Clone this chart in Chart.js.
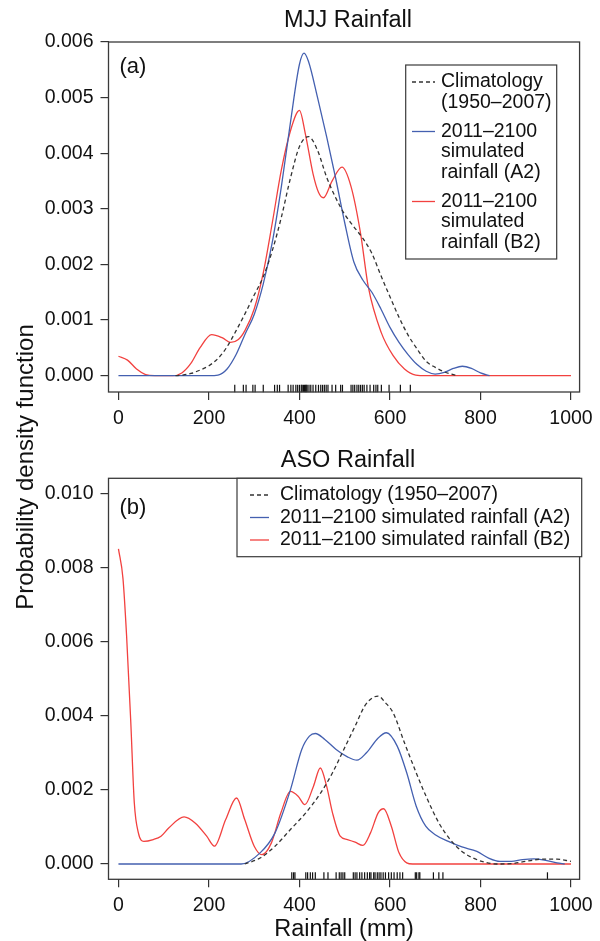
<!DOCTYPE html>
<html>
<head>
<meta charset="utf-8">
<script src="https://cdn.jsdelivr.net/npm/chart.js@4.4.0/dist/chart.umd.min.js"></script>
<style>
  body { margin: 0; background: #fff; width: 600px; height: 941px; position: relative; overflow: hidden; }
  canvas { position: absolute; left: 0; }
  #ylab {
    position: absolute; left: -175px; top: 455px; width: 400px; height: 24px;
    line-height: 24px; font-size: 24px; text-align: center; color: #111;
    font-family: "Liberation Sans", Arial, sans-serif;
    transform: rotate(-90deg);
  }
</style>
</head>
<body>
<canvas id="mjj" width="600" height="430" style="top:0"></canvas>
<canvas id="aso" width="600" height="511" style="top:430px"></canvas>
<div id="ylab">Probability density function</div>
<script>
const FONT = '"Liberation Sans", Arial, sans-serif';

// axis ticks
const xTicks = [0, 200, 400, 600, 800, 1000];
const mjjYTicks = [0, 0.001, 0.002, 0.003, 0.004, 0.005, 0.006];
const asoYTicks = [0, 0.002, 0.004, 0.006, 0.008, 0.010];

// legend labels
const mjjLabels = ["Climatology\n(1950–2007)", "2011–2100\nsimulated\nrainfall (A2)", "2011–2100\nsimulated\nrainfall (B2)"];
const asoLabels = ["Climatology (1950–2007)", "2011–2100 simulated rainfall (A2)", "2011–2100 simulated rainfall (B2)"];

// (a) MJJ densities, rainfall in mm, density in 1e-3
const mjjClimX = [126, 140, 160, 180, 200, 220, 240, 260, 280, 300, 320, 340, 360, 380, 400, 420, 440, 460, 480, 500, 520, 540, 560, 580, 600, 620, 640, 660, 680, 700, 720, 740, 750];
const mjjClimY = [0, 0.01, 0.04, 0.1, 0.18, 0.31, 0.52, 0.81, 1.12, 1.45, 1.78, 2.25, 2.85, 3.55, 4.12, 4.3, 4.05, 3.57, 3.2, 2.9, 2.68, 2.47, 2.2, 1.8, 1.42, 1.05, 0.73, 0.48, 0.26, 0.15, 0.07, 0.02, 0];
const mjjA2X = [0, 200, 220, 240, 260, 280, 300, 320, 340, 360, 380, 400, 410, 420, 440, 460, 480, 500, 520, 540, 560, 580, 600, 620, 640, 660, 680, 700, 720, 740, 760, 780, 800, 820];
const mjjA2Y = [0, 0, 0.01, 0.12, 0.38, 0.75, 1.1, 1.65, 2.4, 3.4, 4.55, 5.6, 5.8, 5.65, 5.0, 4.3, 3.55, 2.75, 2.05, 1.72, 1.5, 1.2, 0.87, 0.6, 0.38, 0.2, 0.08, 0.03, 0.06, 0.13, 0.17, 0.13, 0.05, 0];
const mjjB2X = [0, 20, 40, 60, 80, 120, 140, 160, 180, 206, 230, 248, 265, 280, 300, 320, 340, 360, 380, 400, 413, 430, 442, 453, 472, 494, 514, 535, 552, 581, 607, 632, 657, 680, 1000];
const mjjB2Y = [0.35, 0.28, 0.12, 0.02, 0, 0, 0.05, 0.22, 0.5, 0.74, 0.68, 0.6, 0.65, 0.82, 1.2, 1.85, 2.75, 3.7, 4.4, 4.77, 4.35, 3.63, 3.3, 3.2, 3.5, 3.75, 3.4, 2.56, 1.6, 0.77, 0.36, 0.12, 0.01, 0, 0];
const mjjRug = [257, 276, 282, 297, 302, 320, 345, 351, 356, 375, 381, 386, 392, 396, 400, 404, 406, 409, 411, 413, 415, 417, 421, 425, 430, 436, 442, 447, 451, 455, 459, 463, 472, 480, 491, 495, 514, 518, 522, 527, 531, 535, 539, 543, 549, 556, 564, 569, 573, 581, 598, 623, 645];

// (b) ASO densities
const asoClimX = [279, 313, 346, 380, 414, 447, 473, 498, 523, 544, 561, 574, 590, 607, 632, 658, 683, 708, 733, 759, 784, 809, 835, 868, 900, 935, 969, 1000];
const asoClimY = [0, 0.16, 0.48, 0.93, 1.38, 1.92, 2.46, 3.09, 3.72, 4.26, 4.48, 4.53, 4.35, 4.08, 3.27, 2.46, 1.74, 1.11, 0.66, 0.34, 0.16, 0.05, 0, 0.01, 0.07, 0.13, 0.13, 0.07];
const asoA2X = [0, 271, 313, 346, 380, 405, 422, 435, 456, 481, 506, 527, 548, 574, 592, 616, 637, 658, 679, 700, 729, 759, 792, 818, 843, 868, 893, 918, 944, 969, 986];
const asoA2Y = [0, 0, 0.3, 0.84, 2.0, 3.09, 3.45, 3.52, 3.36, 3.09, 2.89, 2.8, 3.0, 3.4, 3.54, 3.18, 2.46, 1.56, 1.02, 0.79, 0.61, 0.46, 0.34, 0.16, 0.07, 0.07, 0.12, 0.14, 0.1, 0.03, 0];
const asoB2X = [0, 10, 18, 27, 35, 44, 56, 77, 94, 111, 145, 170, 195, 212, 237, 261, 279, 300, 317, 338, 359, 380, 397, 412, 431, 446, 460, 473, 490, 506, 523, 540, 557, 574, 586, 603, 620, 637, 650, 1000];
const asoB2Y = [8.5, 7.7, 6.15, 3.9, 1.65, 0.84, 0.61, 0.66, 0.75, 0.97, 1.27, 1.1, 0.75, 0.48, 1.2, 1.78, 1.2, 0.48, 0.25, 0.57, 1.38, 1.96, 1.83, 1.6, 2.1, 2.59, 2.1, 1.38, 0.75, 0.66, 0.59, 0.5, 0.84, 1.38, 1.49, 1.02, 0.3, 0.03, 0, 0];
const asoRug = [383, 387, 390, 414, 418, 424, 429, 435, 454, 463, 481, 488, 492, 496, 500, 519, 523, 527, 533, 538, 544, 550, 555, 558, 564, 567, 572, 576, 580, 585, 590, 597, 603, 609, 616, 622, 628, 656, 659, 664, 666, 696, 708, 717, 948];

const BLUE = "#4460b0";
const RED = "#f2413f";
const DARK = "#333333";

function line(label, xs, ys, color, dash) {
  return {
    label: label,
    data: xs.map((x, i) => ({ x: x, y: ys[i] * 1e-3 })),
    borderColor: color,
    borderWidth: 1.3,
    borderDash: dash || [],
    pointRadius: 0,
    cubicInterpolationMode: "monotone",
    fill: false
  };
}

function rug(xs, y) {
  return {
    type: "scatter",
    label: "",
    data: xs.map(x => ({ x: x, y: y })),
    pointStyle: "line",
    rotation: 90,
    pointRadius: 3.7,
    borderColor: "#111",
    borderWidth: 1.2,
    showLine: false,
    clip: false
  };
}

const framePlugin = {
  id: "frame",
  afterDraw(chart, args, o) {
    const { ctx, chartArea: a } = chart;
    ctx.save();
    ctx.strokeStyle = "#3a3a3a";
    ctx.lineWidth = 1.3;
    ctx.strokeRect(a.left, a.top, a.right - a.left, a.bottom - a.top);
    ctx.fillStyle = "#111";
    ctx.textAlign = "center";
    ctx.textBaseline = "alphabetic";
    ctx.font = "23.5px " + FONT;
    ctx.fillText(o.title, (a.left + a.right) / 2 + 4, o.titleY);
    ctx.textAlign = "left";
    ctx.font = "22px " + FONT;
    ctx.fillText(o.tag, a.left + 11, o.tagY);

    // legend
    const L = o.legend;
    ctx.fillStyle = "#fff";
    ctx.fillRect(L.x, L.y, L.w, L.h);
    ctx.strokeStyle = "#3a3a3a";
    ctx.lineWidth = 1.2;
    ctx.strokeRect(L.x, L.y, L.w, L.h);
    ctx.font = "19.5px " + FONT;
    ctx.textBaseline = "middle";
    let y = L.row0;
    chart.data.datasets.forEach(ds => {
      if (!ds.label) return;
      ctx.strokeStyle = ds.borderColor;
      ctx.lineWidth = ds.borderWidth;
      ctx.setLineDash(ds.borderDash);
      ctx.beginPath();
      ctx.moveTo(L.lx0, y);
      ctx.lineTo(L.lx1, y);
      ctx.stroke();
      ctx.setLineDash([]);
      ctx.fillStyle = "#111";
      const rows = ds.label.split("\n");
      rows.forEach((t, i) => ctx.fillText(t, L.tx, y + i * L.lh));
      y += rows.length * L.lh + L.gap;
    });
    ctx.restore();
  }
};

function panel(id, datasets, yTicks, yMin, yMax, pad, xHeight, frame, xTitle) {
  return new Chart(document.getElementById(id), {
    type: "line",
    data: { datasets: datasets },
    plugins: [framePlugin],
    options: {
      responsive: false,
      animation: false,
      layout: { padding: pad },
      plugins: {
        legend: { display: false },
        tooltip: { enabled: false },
        frame: frame
      },
      scales: {
        x: {
          type: "linear",
          min: -22,
          max: 1019,
          afterBuildTicks: s => { s.ticks = xTicks.map(v => ({ value: v })); },
          afterFit: s => { s.height = xHeight; },
          grid: { drawOnChartArea: false, tickLength: 8, tickColor: DARK, lineWidth: 1.2 },
          border: { display: false },
          ticks: {
            color: "#111",
            padding: 7,
            maxRotation: 0,
            font: { family: FONT, size: 19.5 },
            callback: v => String(v)
          },
          title: {
            display: !!xTitle,
            text: xTitle || "",
            color: "#111",
            padding: { top: 0, bottom: 0 },
            font: { family: FONT, size: 23.5, lineHeight: 1 }
          }
        },
        y: {
          min: yMin,
          max: yMax,
          afterBuildTicks: s => { s.ticks = yTicks.map(v => ({ value: v })); },
          afterFit: s => { s.width = 108.5; },
          grid: { drawOnChartArea: false, tickLength: 8, tickColor: DARK, lineWidth: 1.2 },
          border: { display: false },
          ticks: {
            color: "#111",
            padding: 7,
            font: { family: FONT, size: 19.5 },
            callback: v => v.toFixed(3)
          }
        }
      }
    }
  });
}

panel("mjj", [
  line(mjjLabels[0], mjjClimX, mjjClimY, DARK, [4, 3]),
  line(mjjLabels[1], mjjA2X, mjjA2Y, BLUE),
  line(mjjLabels[2], mjjB2X, mjjB2Y, RED),
  rug(mjjRug, -0.00023)
], mjjYTicks, -0.000293, 0.006, { top: 42, right: 18, left: 0, bottom: 0 }, 38, {
  title: "MJJ Rainfall", titleY: 27, tag: "(a)", tagY: 72.5,
  legend: { x: 405.7, y: 65, w: 151, h: 194, lx0: 412, lx1: 435, tx: 441, row0: 82, lh: 20.5, gap: 8.5 }
});

panel("aso", [
  line(asoLabels[0], asoClimX, asoClimY, DARK, [4, 3]),
  line(asoLabels[1], asoA2X, asoA2Y, BLUE),
  line(asoLabels[2], asoB2X, asoB2Y, RED),
  rug(asoRug, -0.000324)
], asoYTicks, -0.000413, 0.010405, { top: 48.3, right: 18, left: 0, bottom: 0 }, 61.7, {
  title: "ASO Rainfall", titleY: 36.5, tag: "(b)", tagY: 84,
  legend: { x: 237, y: 48.3, w: 344.7, h: 78.4, lx0: 250, lx1: 269, tx: 280, row0: 65, lh: 22.5, gap: 0 }
}, "Rainfall (mm)");
</script>
</body>
</html>
